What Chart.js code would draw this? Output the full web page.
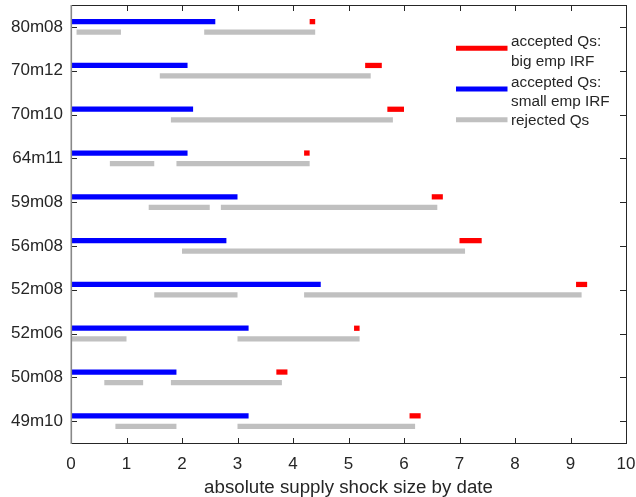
<!DOCTYPE html>
<html>
<head>
<meta charset="utf-8">
<script src="https://cdn.jsdelivr.net/npm/chart.js@4.4.1/dist/chart.umd.min.js"></script>
<style>
  body { margin: 0; background: #fff; }
  canvas { display: block; }
</style>
</head>
<body>
<canvas id="chart" width="636" height="497"></canvas>
<script>
// dates of the oil supply shocks, top to bottom
const dates = ['80m08', '70m12', '70m10', '64m11', '59m08', '56m08', '52m08', '52m06', '50m08', '49m10'];

// accepted Qs, big empirical IRF (red)
const bigIRF = [[4.3, 4.4], [5.3, 5.6], [5.7, 6.0], [4.2, 4.3], [6.5, 6.7],
                [7.0, 7.4], [9.1, 9.3], [5.1, 5.2], [3.7, 3.9], [6.1, 6.3]];
// accepted Qs, small empirical IRF (blue)
const smallIRF = [[0, 2.6], [0, 2.1], [0, 2.2], [0, 2.1], [0, 3.0],
                  [0, 2.8], [0, 4.5], [0, 3.2], [0, 1.9], [0, 3.2]];
// rejected Qs (grey), up to two ranges per date
const rejectedA = [[0.1, 0.9], [1.6, 5.4], [1.8, 5.8], [0.7, 1.5], [1.4, 2.5],
                   [2.0, 7.1], [1.5, 3.0], [0.0, 1.0], [0.6, 1.3], [0.8, 1.9]];
const rejectedB = [[2.4, 4.4], null, null, [1.9, 4.3], [2.7, 6.6],
                   null, [4.2, 9.2], [3.0, 5.2], [1.8, 3.8], [3.0, 6.2]];

const xTicks = [0, 1, 2, 3, 4, 5, 6, 7, 8, 9, 10];

const FONT = "'Liberation Sans', Arial, Helvetica, sans-serif";
const AXIS = '#262626';

function bars(label, data, color, stack) {
  return {
    label: label, data: data, stack: stack,
    backgroundColor: color, borderWidth: 0,
    categoryPercentage: 0.48, barPercentage: 0.5
  };
}

// box with inward ticks, matlab style
const framePlugin = {
  id: 'frame',
  afterDatasetsDraw(chart) {
    const c = chart.ctx, a = chart.chartArea;
    const xs = chart.scales.x, ys = chart.scales.y;
    const L = Math.round(a.left), R = Math.round(a.right);
    const T = Math.round(a.top), B = Math.round(a.bottom);
    c.save();
    c.lineWidth = 1;
    c.strokeStyle = AXIS;
    c.beginPath();
    c.moveTo(L, T + 0.5); c.lineTo(R + 1, T + 0.5);
    c.moveTo(R + 0.5, T); c.lineTo(R + 0.5, B + 1);
    c.moveTo(L, B + 0.5); c.lineTo(R + 1, B + 0.5);
    xTicks.forEach(v => {
      const px = Math.round(xs.getPixelForValue(v)) + 0.5;
      c.moveTo(px, B); c.lineTo(px, B - 5);
      c.moveTo(px, T); c.lineTo(px, T + 6);
    });
    dates.forEach((d, i) => {
      const py = Math.round(ys.getPixelForValue(i)) + 0.5;
      c.moveTo(L, py); c.lineTo(L + 6, py);
      c.moveTo(R, py); c.lineTo(R - 6, py);
    });
    c.stroke();
    c.strokeStyle = '#888';
    c.lineWidth = 1.6;
    c.beginPath();
    c.moveTo(L + 0.3, T); c.lineTo(L + 0.3, B + 1);
    c.stroke();
    c.restore();
  }
};

// legend inside the axes, no box
const legendItems = [
  { lines: ['accepted Qs:', 'big emp IRF'], color: '#ff0000', y: 48.3 },
  { lines: ['accepted Qs:', 'small emp IRF'], color: '#0000ff', y: 89 },
  { lines: ['rejected Qs'], color: '#c0c0c0', y: 119.7 }
];
const legendPlugin = {
  id: 'innerLegend',
  afterDraw(chart) {
    const c = chart.ctx;
    c.save();
    c.font = '15.3px ' + FONT;
    c.fillStyle = AXIS;
    c.textBaseline = 'alphabetic';
    legendItems.forEach(it => {
      c.strokeStyle = it.color;
      c.lineWidth = 5;
      c.beginPath();
      c.moveTo(456, it.y); c.lineTo(507.5, it.y);
      c.stroke();
      if (it.lines.length === 1) {
        c.fillText(it.lines[0], 511, it.y + 5.3);
      } else {
        c.fillText(it.lines[0], 511, it.y - 2.2);
        c.fillText(it.lines[1], 511, it.y + 17.4);
      }
    });
    c.restore();
  }
};

new Chart(document.getElementById('chart'), {
  type: 'bar',
  data: {
    labels: dates,
    datasets: [
      bars('accepted Qs: big emp IRF', bigIRF, '#ff0000', 'acc'),
      bars('accepted Qs: small emp IRF', smallIRF, '#0000ff', 'acc'),
      bars('rejected Qs', rejectedA, '#c0c0c0', 'rej'),
      bars('rejected Qs ', rejectedB, '#c0c0c0', 'rej')
    ]
  },
  options: {
    indexAxis: 'y',
    responsive: false,
    animation: false,
    devicePixelRatio: 1,
    layout: { padding: { top: 5, right: 10, left: 0, bottom: 0 } },
    plugins: {
      legend: { display: false },
      tooltip: { enabled: false }
    },
    scales: {
      x: {
        type: 'linear',
        stacked: false,
        min: 0, max: 10,
        afterFit: s => { s.height = 54; s.paddingLeft = 0; s.paddingRight = 0; },
        afterBuildTicks: s => { s.ticks = xTicks.map(v => ({ value: v })); },
        grid: { display: false, drawTicks: false },
        border: { display: false },
        ticks: { color: AXIS, padding: 11, font: { family: FONT, size: 17 } },
        title: {
          display: true,
          text: 'absolute supply shock size by date',
          color: AXIS,
          padding: { top: 0, bottom: -2 },
          font: { family: FONT, size: 18.7 }
        }
      },
      y: {
        afterFit: s => { s.width = 71; s.paddingTop = 0; s.paddingBottom = 0; },
        grid: { display: false, drawTicks: false },
        border: { display: false },
        ticks: { color: AXIS, padding: 8, font: { family: FONT, size: 17 } }
      }
    }
  },
  plugins: [framePlugin, legendPlugin]
});
</script>
</body>
</html>
